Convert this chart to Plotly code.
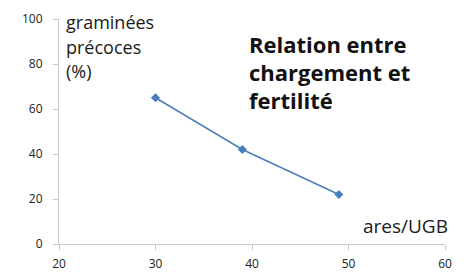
import plotly.graph_objects as go

ares_ugb = [30, 39, 49]
graminees_pct = [65, 42, 22]
x_ticks = [20, 30, 40, 50, 60]
y_ticks = [0, 20, 40, 60, 80, 100]
ylabel_lines = ["graminées", "précoces", "(%)"]
title_lines = ["Relation entre", "chargement et", "fertilité"]
xlabel = "ares/UGB"

W, H = 467, 273
L, R, T, B = 59, 22, 19, 29
pw, ph = W - L - R, H - T - B

def px(xp):
    return (xp - L) / pw

def py(yp):
    return (H - B - yp) / ph

FONT = "Open Sans, Liberation Sans, sans-serif"

fig = go.Figure()
fig.add_trace(go.Scatter(
    x=ares_ugb, y=graminees_pct, mode="lines+markers",
    line=dict(color="#4a7ebb", width=1.5),
    marker=dict(symbol="diamond", size=7, color="#4a7ebb"),
    showlegend=False, cliponaxis=False,
))

annotations = []
for i, (t, yc) in enumerate(zip(ylabel_lines, [22, 47, 71])):
    annotations.append(dict(text=t, x=px(64), y=py(yc), xref="paper", yref="paper",
                            xanchor="left", yanchor="middle", showarrow=False,
                            font=dict(family=FONT, size=18, color="#1a1a1a")))
for i, (t, yc) in enumerate(zip(title_lines, [44, 72, 100])):
    annotations.append(dict(text="<b>" + t + "</b>", x=px(247), y=py(yc), xref="paper", yref="paper",
                            xanchor="left", yanchor="middle", showarrow=False,
                            font=dict(family=FONT, size=22, color="#111")))
annotations.append(dict(text=xlabel, x=px(450), y=py(226), xref="paper", yref="paper",
                        xanchor="right", yanchor="middle", showarrow=False,
                        font=dict(family=FONT, size=19, color="#1a1a1a")))

fig.update_layout(
    width=W, height=H,
    margin=dict(l=L, r=R, t=T, b=B, autoexpand=False),
    paper_bgcolor="white", plot_bgcolor="white",
    annotations=annotations,
    xaxis=dict(range=[20, 60], tickvals=x_ticks, showgrid=False, zeroline=False,
               showline=True, linecolor="#c8c8c8", linewidth=1, automargin=False,
               ticks="outside", ticklen=5, tickcolor="#c8c8c8", ticklabelstandoff=4,
               tickfont=dict(family=FONT, size=12, color="#222")),
    yaxis=dict(range=[0, 100], tickvals=y_ticks, showgrid=False, zeroline=False,
               showline=True, linecolor="#c8c8c8", linewidth=1, automargin=False,
               ticks="outside", ticklen=5, tickcolor="#c8c8c8", ticklabelstandoff=8,
               tickfont=dict(family=FONT, size=12, color="#222")),
)

fig.write_html(
    "out.html",
    config={"displayModeBar": False},
    post_script="document.body.style.margin='0';document.body.style.overflow='hidden';",
)
